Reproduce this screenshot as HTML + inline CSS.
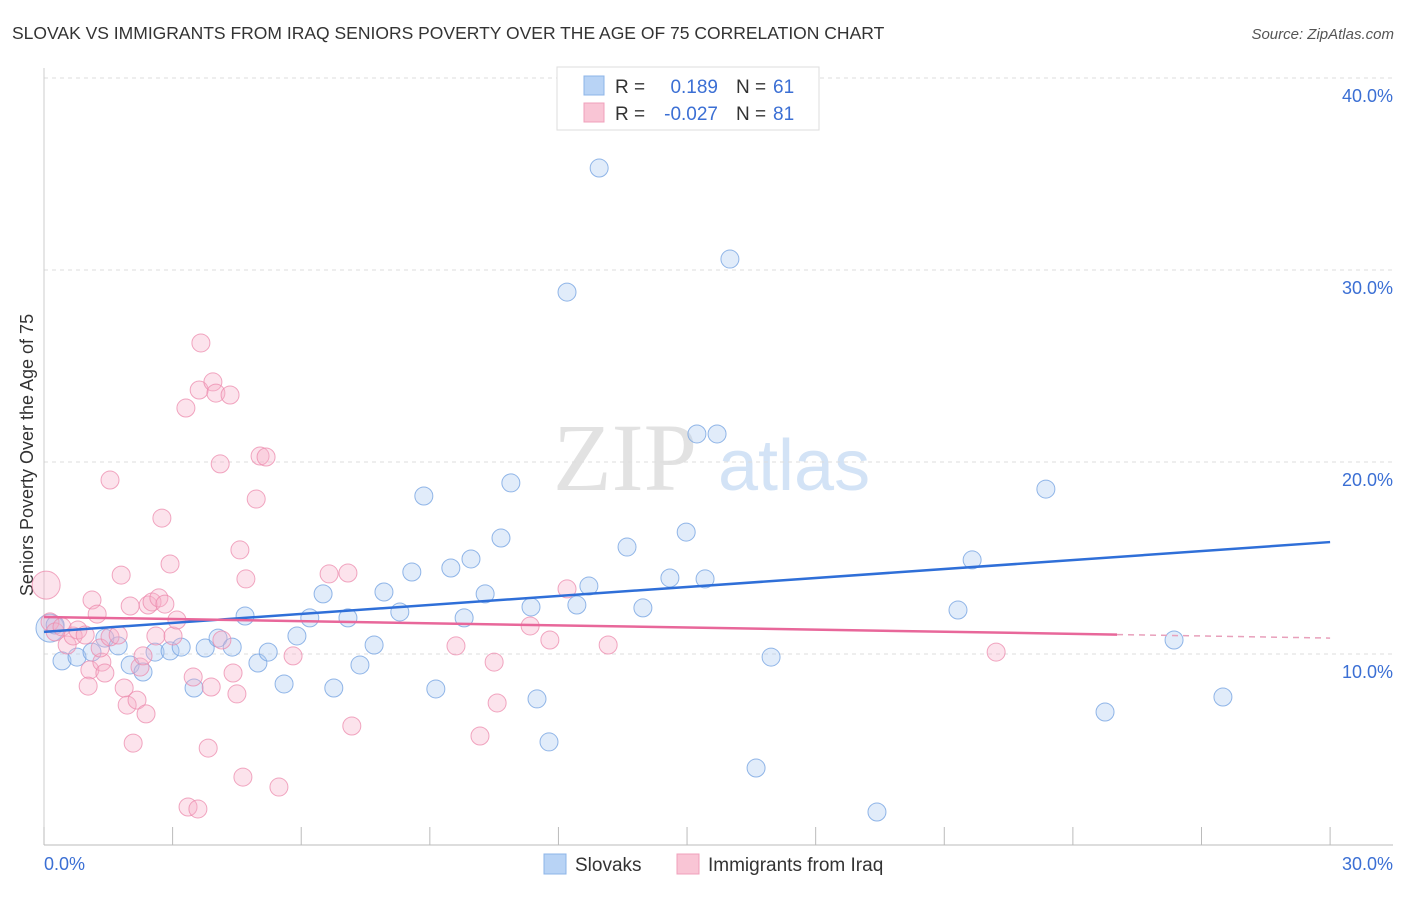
<!DOCTYPE html>
<html><head><meta charset="utf-8"><style>
body{margin:0;background:#fff;font-family:"Liberation Sans",sans-serif}
svg text{font-family:"Liberation Sans",sans-serif}
</style></head><body>
<svg id="c" width="1406" height="892">
<text x="12" y="39" font-size="17.5" fill="#333">SLOVAK VS IMMIGRANTS FROM IRAQ SENIORS POVERTY OVER THE AGE OF 75 CORRELATION CHART</text>
<text x="1394" y="39" font-size="15" fill="#555" font-style="italic" text-anchor="end">Source: ZipAtlas.com</text>
<text x="33" y="455" font-size="18" fill="#333" text-anchor="middle" transform="rotate(-90 33 455)">Seniors Poverty Over the Age of 75</text>
<g><text x="553" y="490" font-size="96" fill="#e2e2e2" font-family="Liberation Serif" style="font-family:'Liberation Serif',serif">ZIP</text><text x="718" y="490" font-size="72" fill="#d3e3f6">atlas</text></g>
<g id="grid"></g><g id="pts"></g><g id="lines"></g>
<g>
<rect x="557" y="67" width="262" height="63" fill="#fff" stroke="#ddd"/>
<rect x="584" y="76" width="20" height="19" fill="#b8d3f5" stroke="#8db4e8"/>
<rect x="584" y="103" width="20" height="19" fill="#f9c5d5" stroke="#f0a0bb"/>
<text x="615" y="93" font-size="19" fill="#333">R =</text><text x="718" y="93" font-size="19" fill="#3b6fd4" text-anchor="end">0.189</text>
<text x="736" y="93" font-size="19" fill="#333">N =</text><text x="773" y="93" font-size="19" fill="#3b6fd4">61</text>
<text x="615" y="120" font-size="19" fill="#333">R =</text><text x="718" y="120" font-size="19" fill="#3b6fd4" text-anchor="end">-0.027</text>
<text x="736" y="120" font-size="19" fill="#333">N =</text><text x="773" y="120" font-size="19" fill="#3b6fd4">81</text>
</g>
<g>
<rect x="544" y="854" width="22" height="20" fill="#b8d3f5" stroke="#8db4e8"/>
<text x="575" y="871" font-size="19" fill="#333">Slovaks</text>
<rect x="677" y="854" width="22" height="20" fill="#f9c5d5" stroke="#f0a0bb"/>
<text x="708" y="871" font-size="19" fill="#333">Immigrants from Iraq</text>
</g>
</svg>
<script>
const yTicks=[10,20,30,40];
const yTickLabels=["10.0%","20.0%","30.0%","40.0%"];
const xTicks=[0,3,6,9,12,15,18,21,24,27,30];
const blueX=[0.14,0.26,0.42,0.77,1.12,1.42,1.73,2.01,2.31,2.59,2.94,3.2,3.5,3.76,4.06,4.39,4.69,4.99,5.23,5.6,5.9,6.2,6.51,6.76,7.09,7.37,7.7,7.93,8.3,8.58,8.86,9.14,9.49,9.8,9.96,10.29,10.66,10.89,11.36,11.5,11.78,12.2,12.43,12.71,12.95,13.6,13.97,14.6,14.98,15.23,15.42,15.7,16.0,16.61,16.96,19.43,21.32,21.65,23.37,24.75,26.36,27.5];
const blueY=[11.35,11.51,9.64,9.84,10.1,10.83,10.42,9.43,9.06,10.1,10.16,10.36,8.23,10.31,10.83,10.36,11.98,9.53,10.1,8.44,10.94,11.88,13.13,8.23,11.88,9.43,10.47,13.23,12.19,14.27,18.23,8.18,14.48,11.88,14.95,13.13,16.04,18.91,12.45,7.66,5.42,28.85,12.55,13.54,35.31,15.57,12.4,13.96,16.35,21.46,13.91,21.46,30.57,4.06,9.84,1.77,12.29,14.9,18.59,6.98,10.73,7.76];
const pinkX=[0.05,0.14,0.26,0.42,0.54,0.68,0.79,0.96,1.07,1.03,1.12,1.24,1.35,1.42,1.31,1.54,1.54,1.73,1.8,1.87,1.94,2.01,2.08,2.17,2.24,2.31,2.38,2.43,2.52,2.61,2.68,2.75,2.82,2.94,3.01,3.1,3.31,3.36,3.48,3.59,3.62,3.66,3.83,3.9,3.94,4.01,4.11,4.15,4.34,4.41,4.5,4.57,4.64,4.71,4.95,5.04,5.18,5.48,5.81,6.65,7.09,7.18,9.61,10.17,10.5,10.57,11.34,11.8,12.2,13.16,22.21];
const pinkY=[13.59,11.67,11.15,11.41,10.47,10.94,11.25,10.99,9.17,8.33,12.81,12.08,9.58,9.01,10.31,10.89,19.06,10.99,14.11,8.23,7.34,12.5,5.36,7.6,9.32,9.9,6.88,12.55,12.71,10.94,12.92,17.08,12.6,14.69,10.94,11.77,22.81,2.03,8.8,1.93,23.75,26.2,5.1,8.28,24.17,23.59,19.9,10.73,23.49,9.01,7.92,15.42,3.59,13.91,18.07,20.31,20.26,3.07,9.9,14.17,14.22,6.25,10.42,5.73,9.58,7.45,11.46,10.73,13.39,10.47,10.1];
const blueTrend=[11.15,15.83];
const pinkTrend=[11.93,10.83];
const pinkSolidEnd=25.03;
const NS="http://www.w3.org/2000/svg";
const X=v=>44+v*42.87, Y=v=>846-v*19.2;
function mk(t,a,p){const e=document.createElementNS(NS,t);for(const k in a)e.setAttribute(k,a[k]);p.appendChild(e);return e;}
const g=document.getElementById('grid');
yTicks.forEach((t,i)=>{
 const l=mk('line',{x1:44,x2:1393,y1:Y(t),y2:Y(t),stroke:'#ddd','stroke-dasharray':'4 4'},g);
 
 
 const tx=mk('text',{x:1393,y:Y(t)+24,'font-size':18,fill:'#3b6fd4','text-anchor':'end'},g);tx.textContent=yTickLabels[i];
 
 
});
const ax=mk('line',{x1:44,x2:1393,y1:845,y2:845,stroke:'#bbb'},g);


const ay=mk('line',{x1:44,x2:44,y1:68,y2:845,stroke:'#ccc'},g);


xTicks.forEach(t=>{const l=mk('line',{x1:X(t),x2:X(t),y1:827,y2:845,stroke:'#bbb'},g);
 
 });
const x0=mk('text',{x:44,y:870,'font-size':18,fill:'#3b6fd4'},g);x0.textContent='0.0%';


const x1=mk('text',{x:1393,y:870,'font-size':18,fill:'#3b6fd4','text-anchor':'end'},g);x1.textContent='30.0%';


const P=document.getElementById('pts');
function dots(xs,ys,fill,stroke,name){xs.forEach((x,i)=>{const r=i===0?14:9;
 const c=mk('circle',{cx:X(x),cy:Y(ys[i]),r:r,fill:fill,'fill-opacity':0.35,stroke:stroke,'stroke-opacity':0.75,'stroke-width':1},P);
 
 });}
dots(blueX,blueY,'#a9c8f0','#6f9fe0','slovak-point');
dots(pinkX,pinkY,'#f5b0c8','#ec8aac','iraq-point');
const L=document.getElementById('lines');
const bl=mk('line',{x1:X(0),y1:Y(blueTrend[0]),x2:X(30),y2:Y(blueTrend[1]),stroke:'#2f6fd8','stroke-width':2.5},L);


const pv=x=>pinkTrend[0]+(pinkTrend[1]-pinkTrend[0])*x/30;
const pl=mk('line',{x1:X(0),y1:Y(pv(0)),x2:X(pinkSolidEnd),y2:Y(pv(pinkSolidEnd)),stroke:'#e8679a','stroke-width':2.5},L);


const pd=mk('line',{x1:X(pinkSolidEnd),y1:Y(pv(pinkSolidEnd)),x2:X(30),y2:Y(pv(30)),stroke:'#e8a0bb','stroke-width':1.5,'stroke-dasharray':'6 5'},L);


</script>
</body></html>
